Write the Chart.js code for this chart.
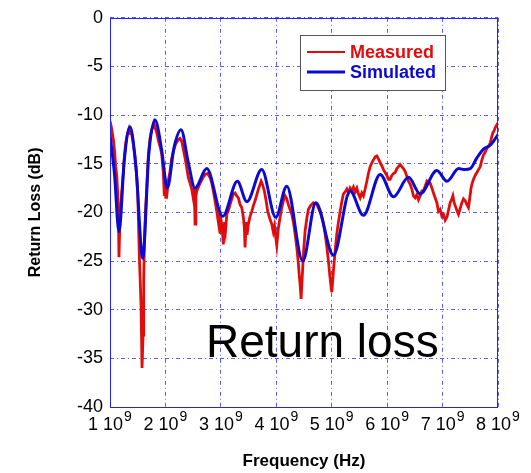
<!DOCTYPE html>
<html><head><meta charset="utf-8">
<script src="https://cdn.jsdelivr.net/npm/chart.js@4/dist/chart.umd.min.js"></script>
<style>html,body{margin:0;padding:0;background:#fff;}#wrap{width:531px;height:473px;}</style>
</head><body><div id="wrap"><canvas id="c" width="531" height="473"></canvas></div>
<script>
const xTicks = [1, 2, 3, 4, 5, 6, 7, 8];
const xTickLabels = ['1 10⁹', '2 10⁹', '3 10⁹', '4 10⁹', '5 10⁹', '6 10⁹', '7 10⁹', '8 10⁹'];
const yTicks = [0, -5, -10, -15, -20, -25, -30, -35, -40];
const yTickLabels = ['0', '-5', '-10', '-15', '-20', '-25', '-30', '-35', '-40'];
const seriesNames = ['Measured', 'Simulated'];
const xTitle = 'Frequency (Hz)';
const yTitle = 'Return Loss (dB)';
const annotationText = 'Return loss';

// frequency in GHz (units of 10^9 Hz)
const measuredFreq = [1.000,1.027,1.060,1.081,1.103,1.121,1.139,1.152,1.162,1.181,1.208,1.240,1.262,1.283,1.312,1.343,1.366,1.392,1.421,1.451,1.478,1.500,1.514,1.529,1.545,1.560,1.578,1.596,1.608,1.619,1.641,1.662,1.691,1.722,1.753,1.776,1.794,1.818,1.843,1.872,1.903,1.933,1.962,1.980,1.993,2.007,2.020,2.034,2.056,2.083,2.110,2.143,2.182,2.233,2.264,2.294,2.323,2.354,2.384,2.413,2.444,2.475,2.504,2.522,2.534,2.549,2.565,2.594,2.625,2.670,2.715,2.760,2.805,2.836,2.864,2.895,2.926,2.955,2.973,2.986,3.004,3.022,3.045,3.067,3.085,3.107,3.135,3.166,3.197,3.226,3.256,3.287,3.316,3.347,3.377,3.406,3.424,3.437,3.455,3.473,3.496,3.527,3.558,3.587,3.617,3.648,3.677,3.708,3.726,3.756,3.785,3.816,3.846,3.882,3.918,3.946,3.968,3.991,4.009,4.038,4.069,4.099,4.128,4.159,4.189,4.218,4.249,4.280,4.309,4.339,4.370,4.399,4.415,4.430,4.448,4.471,4.493,4.520,4.551,4.579,4.619,4.670,4.700,4.731,4.763,4.809,4.845,4.881,4.911,4.941,4.966,4.989,5.002,5.031,5.061,5.092,5.121,5.152,5.182,5.211,5.242,5.273,5.305,5.332,5.363,5.392,5.422,5.453,5.482,5.513,5.543,5.572,5.603,5.634,5.662,5.693,5.724,5.753,5.783,5.814,5.843,5.874,5.904,5.933,5.964,5.994,6.023,6.054,6.085,6.114,6.144,6.175,6.204,6.235,6.265,6.294,6.325,6.356,6.384,6.415,6.446,6.474,6.505,6.536,6.565,6.596,6.626,6.655,6.686,6.717,6.746,6.776,6.807,6.836,6.866,6.897,6.926,6.957,6.987,7.016,7.047,7.078,7.106,7.137,7.168,7.186,7.209,7.227,7.258,7.287,7.318,7.348,7.377,7.408,7.438,7.467,7.489,7.511,7.534,7.558,7.588,7.619,7.648,7.679,7.709,7.738,7.769,7.800,7.828,7.859,7.883,7.908,7.931,7.949,7.980,8.000];
const measuredDb = [-10.6,-11.3,-12.5,-13.6,-15.3,-16.2,-18.0,-20.5,-24.6,-20.4,-18.2,-15.9,-14.1,-12.9,-12.0,-11.4,-11.9,-12.0,-13.0,-14.2,-16.0,-18.0,-21.0,-24.5,-27.0,-29.6,-36.0,-32.6,-27.0,-23.4,-19.8,-17.6,-14.2,-12.4,-11.5,-11.2,-10.8,-11.4,-11.8,-12.6,-13.2,-14.0,-15.9,-18.3,-17.1,-18.6,-17.4,-17.8,-16.6,-15.8,-14.5,-13.7,-13.0,-12.5,-12.4,-12.7,-13.5,-14.4,-15.4,-16.4,-17.0,-17.6,-18.6,-17.5,-21.2,-18.4,-17.8,-17.4,-17.0,-16.5,-16.1,-16.0,-16.4,-17.0,-17.8,-18.8,-19.9,-21.0,-20.0,-22.2,-20.8,-21.5,-23.3,-21.0,-21.8,-20.2,-19.8,-19.2,-18.6,-18.1,-18.0,-18.3,-18.5,-19.2,-19.5,-20.5,-21.6,-23.6,-21.0,-22.3,-21.2,-20.4,-19.9,-19.3,-18.8,-18.2,-17.6,-17.1,-16.8,-17.2,-17.8,-18.8,-19.9,-20.6,-21.2,-22.0,-21.4,-22.6,-23.4,-21.6,-20.5,-19.5,-18.8,-18.3,-18.6,-19.2,-19.7,-20.2,-21.0,-22.2,-23.6,-25.3,-26.5,-27.4,-28.9,-26.3,-24.0,-21.9,-20.6,-19.7,-19.3,-19.0,-19.1,-19.2,-19.6,-20.2,-21.0,-22.2,-23.5,-25.0,-26.5,-27.7,-28.2,-26.0,-24.0,-22.2,-21.0,-19.9,-18.9,-18.1,-17.9,-17.6,-18.0,-17.5,-17.8,-17.4,-17.9,-17.5,-18.1,-18.5,-18.0,-18.3,-17.6,-16.8,-16.0,-15.3,-14.9,-14.6,-14.3,-14.2,-14.5,-14.9,-15.2,-15.6,-15.9,-16.2,-16.6,-16.6,-16.2,-16.0,-15.9,-15.5,-15.3,-15.1,-15.3,-15.5,-15.8,-16.3,-16.8,-17.1,-17.6,-18.3,-18.5,-18.2,-18.7,-18.3,-17.8,-17.8,-17.3,-16.8,-17.0,-17.0,-17.5,-18.0,-18.5,-19.0,-19.9,-19.7,-20.4,-20.2,-20.8,-20.5,-19.8,-19.0,-18.6,-18.3,-19.0,-19.3,-19.8,-20.2,-19.6,-19.0,-18.6,-18.8,-19.2,-19.5,-18.6,-17.6,-17.0,-16.6,-16.2,-15.9,-15.6,-15.3,-14.6,-14.1,-13.8,-13.4,-13.2,-12.9,-12.3,-11.8,-11.6,-11.3,-11.0,-10.8];

const simulatedFreq = [1.00,1.08,1.162,1.26,1.361,1.47,1.590,1.70,1.812,1.93,2.034,2.16,2.282,2.41,2.534,2.745,3.034,3.298,3.468,3.738,3.991,4.189,4.478,4.713,5.031,5.332,5.572,5.874,6.114,6.385,6.596,6.897,7.078,7.29,7.40,7.50,7.619,7.738,7.86,7.93,8.00];
const simulatedDb = [-12.0,-16.0,-22.0,-14.5,-11.2,-15.5,-24.7,-14.0,-10.5,-13.5,-17.5,-13.2,-11.5,-14.8,-17.5,-15.5,-20.4,-16.8,-18.9,-15.6,-20.5,-17.3,-25.0,-19.0,-24.4,-17.8,-20.3,-16.1,-18.4,-16.4,-18.1,-15.7,-16.8,-15.5,-15.6,-15.5,-14.4,-13.5,-13.1,-12.6,-12.0];

const RED = '#e00d0d';
const BLUE = '#0a0ad2';
const FONT = "'Liberation Sans', Arial, sans-serif";

const n = Math.min(measuredFreq.length, measuredDb.length);
const measuredPts = measuredFreq.slice(0, n).map((f, i) => ({x: f, y: measuredDb[i]}));
const simulatedPts = simulatedFreq.map((f, i) => ({x: f, y: simulatedDb[i]}));

const decor = {
  id: 'decor',
  afterDraw(chart) {
    const ctx = chart.ctx;
    const a = chart.chartArea;
    ctx.save();
    // frame
    ctx.strokeStyle = '#2424f0';
    ctx.lineWidth = 1;
    ctx.setLineDash([]);
    ctx.strokeRect(Math.round(a.left) + 0.5, Math.round(a.top) + 0.5, Math.round(a.right - a.left) - 1, Math.round(a.bottom - a.top));
    // x tick labels with raised exponent, positioned by the x scale
    const xs = chart.scales.x;
    ctx.fillStyle = '#000';
    ctx.textBaseline = 'alphabetic';
    ctx.textAlign = 'left';
    xs.ticks.forEach(t => {
      const i = xTicks.indexOf(t.value);
      if (i < 0) return;
      const lab = xTickLabels[i];
      const main = lab.slice(0, -1);
      const sup = '9';
      ctx.font = "18px " + FONT;
      const wm = ctx.measureText(main).width;
      ctx.font = "14px " + FONT;
      const ws = ctx.measureText(sup).width;
      const px = xs.getPixelForValue(t.value);
      const x0 = px - (wm + ws + 1) / 2;
      ctx.font = "18px " + FONT;
      ctx.fillText(main, x0, 430);
      ctx.font = "14px " + FONT;
      ctx.fillText(sup, x0 + wm + 1, 421);
    });
    // annotation text
    ctx.fillStyle = '#000';
    ctx.font = "46px " + FONT;
    ctx.fillText(annotationText, 206, 357);
    // legend box
    const bx = 300, by = 35, bw = 145, bh = 55;
    ctx.fillStyle = '#fff';
    ctx.fillRect(bx, by, bw, bh);
    ctx.strokeStyle = '#555';
    ctx.lineWidth = 1;
    ctx.strokeRect(bx + 0.5, by + 0.5, bw, bh);
    const items = [{c: RED, w: 2, y: 52}, {c: BLUE, w: 3, y: 72}];
    items.forEach((it, i) => {
      ctx.strokeStyle = it.c;
      ctx.lineWidth = it.w;
      ctx.beginPath();
      ctx.moveTo(307, it.y);
      ctx.lineTo(345, it.y);
      ctx.stroke();
      ctx.fillStyle = it.c;
      ctx.font = "bold 18px " + FONT;
      ctx.textBaseline = 'middle';
      ctx.fillText(seriesNames[i], 350, it.y + 1);
    });
    ctx.restore();
  }
};

const gridCfg = {color: 'rgba(50,50,235,0.8)', lineWidth: 1, drawTicks: false};
const borderCfg = {display: false, dash: [4, 3, 1, 3]};

new Chart(document.getElementById('c'), {
  type: 'line',
  data: {
    datasets: [
      {label: seriesNames[0], data: measuredPts, borderColor: RED, backgroundColor: RED, borderWidth: 2.8, pointRadius: 0, tension: 0, order: 2},
      {label: seriesNames[1], data: simulatedPts, borderColor: BLUE, backgroundColor: BLUE, borderWidth: 3, pointRadius: 0, cubicInterpolationMode: 'monotone', order: 1}
    ]
  },
  options: {
    responsive: false,
    animation: false,
    devicePixelRatio: 1,
    layout: {padding: {left: 0, right: 33, top: 16, bottom: 0}},
    plugins: {legend: {display: false}, tooltip: {enabled: false}},
    scales: {
      x: {
        type: 'linear', min: 1, max: 8,
        afterBuildTicks: s => { s.ticks = xTicks.map(v => ({value: v})); },
        afterFit: s => { s.height = 66; },
        ticks: {color: 'rgba(0,0,0,0)', font: {family: FONT, size: 18}, padding: 6, maxRotation: 0,
          callback: v => { const i = xTicks.indexOf(v); return i >= 0 ? xTickLabels[i] : ''; }},
        grid: gridCfg, border: borderCfg,
        title: {display: true, text: xTitle, color: '#000', font: {family: FONT, size: 17, weight: 'bold'}, padding: {top: 0, bottom: 1}}
      },
      y: {
        type: 'linear', min: -40, max: 0,
        afterBuildTicks: s => { s.ticks = yTicks.map(v => ({value: v})); },
        afterFit: s => { s.width = 110; },
        ticks: {color: '#000', font: {family: FONT, size: 18}, padding: 7,
          callback: v => { const i = yTicks.indexOf(v); return i >= 0 ? yTickLabels[i] : ''; }},
        grid: gridCfg, border: borderCfg,
        title: {display: true, text: yTitle, color: '#000', font: {family: FONT, size: 16, weight: 'bold'}, padding: {top: 26, bottom: 0}}
      }
    }
  },
  plugins: [decor]
});
</script>
</body></html>
